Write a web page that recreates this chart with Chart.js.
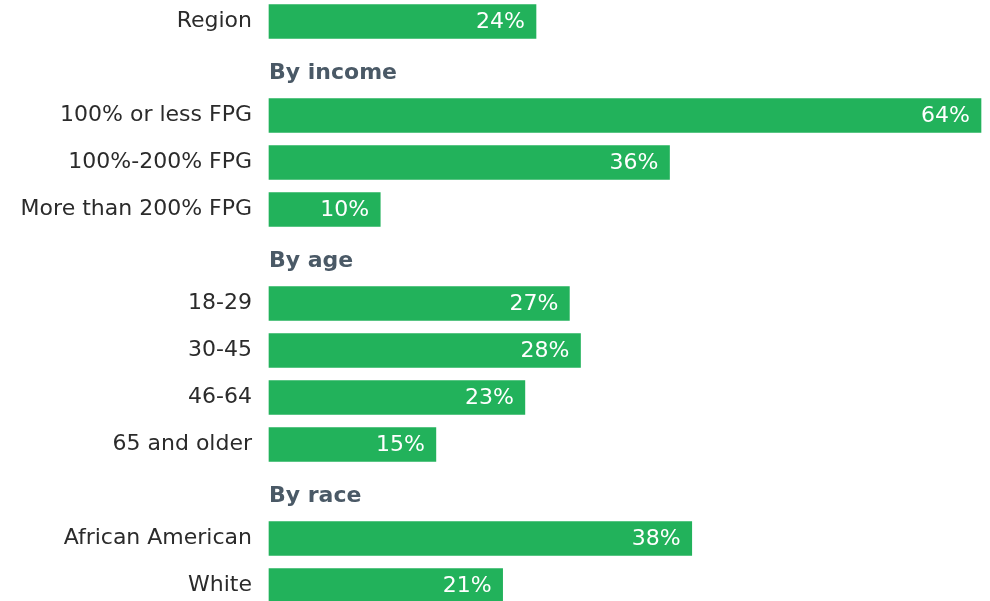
<!DOCTYPE html>
<html>
<head>
<meta charset="utf-8">
<script src="https://cdn.jsdelivr.net/npm/chart.js@4"></script>
<style>
  html, body { margin: 0; padding: 0; background: #ffffff; }
  #wrap { width: 990px; height: 601px; }
</style>
</head>
<body>
<div id="wrap"><canvas id="chart"></canvas></div>
<script>
// Kategorije (vrstice) in vrednosti
const rowLabels = [
    'Region',
    'By income',
    '100% or less FPG',
    '100%-200% FPG',
    'More than 200% FPG',
    'By age',
    '18-29',
    '30-45',
    '46-64',
    '65 and older',
    'By race',
    'African American',
    'White'
];
// Vrstice, ki so naslovi skupin (brez stolpca)
const groupHeaders = ['By income', 'By age', 'By race'];
const shares = [24, null, 64, 36, 10, null, 27, 28, 23, 15, null, 38, 21];

const green = '#22b25b';
const fontFamily = '"DejaVu Sans", sans-serif';

// Razpon navpične osi - zadnja vrstica je na dnu odrezana kot v izvirniku
const plotTop = -2;
const plotBottom = 609;

const areaPlugin = {
    id: 'areaPlugin',
    afterLayout(chart) {
        const y = chart.scales.y;
        y.top = plotTop;
        y.bottom = plotBottom;
        y.height = plotBottom - plotTop;
        y.configure();
        chart.chartArea.top = plotTop;
        chart.chartArea.bottom = plotBottom;
        chart.chartArea.height = plotBottom - plotTop;
    }
};

// Vtičnik za oznake vrednosti in naslove skupin
const labelsPlugin = {
    id: 'labelsPlugin',
    afterDatasetsDraw(chart) {
        const ctx = chart.ctx;
        const meta = chart.getDatasetMeta(0);
        const yScale = chart.scales.y;

        ctx.save();
        ctx.textBaseline = 'middle';

        // vrednosti v stolpcih
        ctx.font = '22px ' + fontFamily;
        ctx.fillStyle = '#ffffff';
        ctx.textAlign = 'right';
        meta.data.forEach((bar, i) => {
            if (shares[i] === null) return;
            ctx.fillText(shares[i] + '%', bar.x - 11, bar.y + 1);
        });

        // naslovi skupin (malo nižje, bližje naslednji skupini)
        ctx.font = 'bold 22px ' + fontFamily;
        ctx.fillStyle = '#4a5966';
        ctx.textAlign = 'left';
        rowLabels.forEach((label, i) => {
            if (!groupHeaders.includes(label)) return;
            ctx.fillText(label, chart.chartArea.left, yScale.getPixelForValue(i) + 5);
        });
        ctx.restore();
    }
};

const ctx = document.getElementById('chart').getContext('2d');
const chart = new Chart(ctx, {
    type: 'bar',
    data: {
        labels: rowLabels,
        datasets: [{
            data: shares,
            backgroundColor: green,
            borderWidth: 0,
            barThickness: 34,
            clip: false
        }]
    },
    options: {
        indexAxis: 'y',
        responsive: true,
        maintainAspectRatio: false,
        animation: false,
        layout: {
            padding: { top: 0, bottom: 0, left: 0, right: 9 }
        },
        plugins: {
            legend: { display: false },
            tooltip: { enabled: false }
        },
        scales: {
            x: {
                display: false,
                min: 0,
                max: 64
            },
            y: {
                afterFit(scale) {
                    scale.width = 269;
                },
                grid: { display: false, drawTicks: false },
                border: { display: false },
                ticks: {
                    padding: 17,
                    color: '#2b2b2b',
                    font: { family: fontFamily, size: 22 },
                    autoSkip: false,
                    callback(value) {
                        const label = rowLabels[value];
                        return groupHeaders.includes(label) ? '' : label;
                    }
                }
            }
        }
    },
    plugins: [areaPlugin, labelsPlugin]
});
</script>
</body>
</html>
